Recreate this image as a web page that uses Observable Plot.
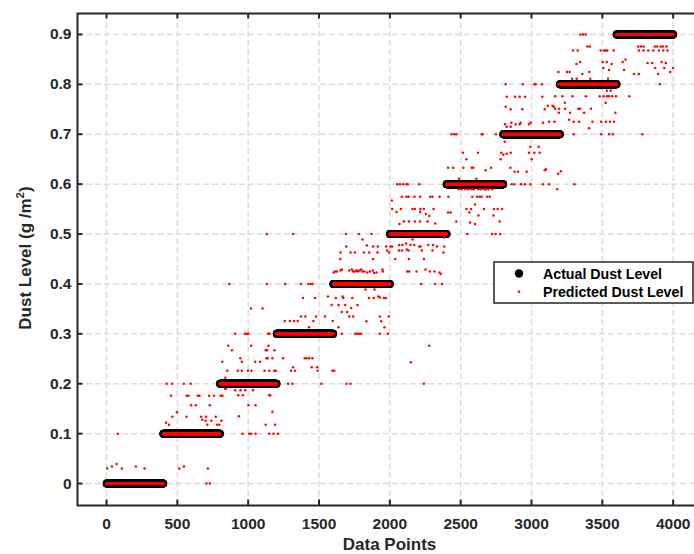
<!DOCTYPE html>
<html><head><meta charset="utf-8">
<script src="https://cdn.jsdelivr.net/npm/d3@7"></script>
<script src="https://cdn.jsdelivr.net/npm/@observablehq/plot@0.6"></script>
<style>
html,body{margin:0;padding:0;background:#fff;overflow:hidden;}
#chart{position:relative;width:694px;height:554px;overflow:hidden;background:#fff;}
#chart svg{display:block;max-width:none !important;width:702px !important;height:554px !important;}
</style>
</head><body><div id="chart"></div>
<script>
// Actual dust level: one constant level per block of data points
const actualLevels = [0, 0.1, 0.2, 0.3, 0.4, 0.5, 0.6, 0.7, 0.8, 0.9];
const pointsPerLevel = 400;

// Axis ticks
const xTicks = [0, 500, 1000, 1500, 2000, 2500, 3000, 3500, 4000];
const yTicks = [0, 0.1, 0.2, 0.3, 0.4, 0.5, 0.6, 0.7, 0.8, 0.9];
const yTickLabels = ["0", "0.1", "0.2", "0.3", "0.4", "0.5", "0.6", "0.7", "0.8", "0.9"];

// Predicted dust level: points that differ from the actual level, [dataPoint, level]
const predictedOff0to800 = [
  [5,0.03],[38,0.034],[71,0.039],[108,0.03],[207,0.034],[268,0.03],[80,0.1],
  [513,0.03],[546,0.034],[705,0],[730,0],[715,0.03],
  [424,0.2],[464,0.2],[545,0.2],[594,0.2],
  [455,0.176],[566,0.176],[578,0.176],[644,0.176],[656,0.176],[724,0.176],[759,0.176],
  [597,0.157],[630,0.157],[729,0.157],
  [464,0.134],[497,0.143],[564,0.134],[667,0.134],[703,0.134],[771,0.134],
  [700,0.126],[740,0.126],[712,0.118],[781,0.118],[420,0.122],[441,0.118],
  [676,0.128],[796,0.118]
];
const predictedOff800to1600 = [
  [806,0.176],[818,0.176],[811,0.126],[839,0.212],[842,0.19],
  [1131,0.5],[1317,0.5],
  [866,0.4],[1131,0.4],[1261,0.4],[1371,0.4],[1425,0.4],[1441,0.4],[1453,0.4],
  [1387,0.372],[1472,0.372],[1563,0.375],[1589,0.358],
  [1019,0.351],[1101,0.351],
  [1373,0.335],[1404,0.335],[1479,0.335],[1542,0.335],
  [1258,0.326],[1294,0.326],[1324,0.326],[1350,0.326],[1460,0.326],[1596,0.326],[1430,0.313],
  [908,0.3],[977,0.3],[991,0.3],[1000,0.3],[1141,0.3],[1150,0.3],
  [859,0.276],[885,0.267],[1021,0.276],[1124,0.267],[1133,0.267],[1143,0.276],[1185,0.267],
  [817,0.244],[944,0.251],[955,0.244],[1049,0.244],[1084,0.244],[1129,0.251],[1138,0.251],[1171,0.251],[1246,0.251],
  [1317,0.233],[1399,0.251],[1413,0.251],[1430,0.251],[1453,0.251],[1448,0.233],[1486,0.233],
  [852,0.226],[927,0.226],[955,0.226],[998,0.226],[1023,0.226],[1115,0.226],[1148,0.226],[1185,0.226],[1195,0.226],
  [1303,0.226],[1331,0.226],[1490,0.226],[1594,0.226],[1608,0.226],
  [1282,0.2],[1312,0.2],[1516,0.2],
  [838,0.19],[908,0.187],[946,0.187],[979,0.187],[1035,0.187],
  [1148,0.177],[1155,0.177],[930,0.177],[962,0.177],
  [1002,0.157],[1052,0.157],[1171,0.144],[934,0.135],[1124,0.118],[1190,0.118],
  [960,0.1],[1007,0.1],[1021,0.1],[1052,0.1],[1148,0.1],[1178,0.1],[1211,0.1]
];
const predictedOff1600to2400 = [
  [2052,0.6],[2071,0.6],[2094,0.6],[2118,0.6],[2127,0.6],[2207,0.6],
  [2085,0.575],[2118,0.575],[2132,0.575],[2174,0.575],[2214,0.575],[2285,0.575],[2301,0.575],[2351,0.575],
  [2014,0.567],[2016,0.55],[2078,0.55],[2047,0.544],[2160,0.55],[2176,0.55],[2216,0.55],[2240,0.55],
  [2254,0.54],[2278,0.536],[2214,0.544],[2308,0.55],
  [2099,0.525],[2134,0.525],[2176,0.525],[2212,0.525],[2266,0.525],[2320,0.521],[2068,0.52],
  [1689,0.5],[1781,0.5],[1871,0.5],
  [1807,0.489],[1838,0.477],[1692,0.475],[1882,0.475],[1915,0.475],[1974,0.475],[2005,0.475],[2016,0.475],
  [2066,0.478],[2089,0.478],[2115,0.481],[2146,0.478],[2172,0.478],[2207,0.475],[2216,0.475],
  [2271,0.478],[2304,0.478],[2332,0.475],[2384,0.475],[2160,0.489],[2385,0.493],
  [1652,0.463],[1722,0.463],[1753,0.463],[1816,0.463],[1854,0.463],[1913,0.463],[1981,0.467],[1995,0.463],
  [2064,0.467],[2085,0.467],[2120,0.469],[2132,0.467],[2226,0.467],[2301,0.467],[2379,0.463],
  [1650,0.45],[1882,0.45],[2038,0.45],[2134,0.45],[2240,0.45],
  [1603,0.423],[1614,0.425],[1626,0.425],[1652,0.427],[1661,0.429],
  [1713,0.427],[1732,0.429],[1741,0.425],[1755,0.425],[1765,0.427],[1774,0.425],[1786,0.427],[1798,0.429],
  [1807,0.425],[1819,0.425],[1840,0.423],[1859,0.425],[1880,0.427],[1889,0.422],[1906,0.423],[1948,0.429],[1950,0.425],
  [2122,0.425],[2136,0.425],[2188,0.425],[2252,0.429],[2282,0.425],[2315,0.425],[2351,0.423],[2358,0.42],
  [2221,0.4],[2320,0.4],[2369,0.4],
  [1619,0.372],[1666,0.375],[1671,0.372],[1734,0.372],[1828,0.389],[1892,0.389],[1852,0.372],[1887,0.372],
  [1918,0.375],[1929,0.373],[1958,0.372],[1972,0.372],
  [1638,0.358],[1685,0.358],[1727,0.352],[1772,0.358],[1661,0.344],[1699,0.344],[1713,0.335],[1741,0.335],
  [1835,0.325],[1929,0.335],[1939,0.325],[1993,0.335],[1962,0.313],[1638,0.313],
  [1661,0.3],[1755,0.3],[1769,0.3],[1783,0.3],[1797,0.3],[1929,0.3],[1986,0.3],
  [2278,0.276],[2148,0.243],[1694,0.2],[1722,0.2],[2240,0.2]
];
const predictedOff2400to3100 = [
  [2818,0.8],[2938,0.8],[3020,0.8],[3029,0.8],[3074,0.8],
  [2825,0.775],[2884,0.775],[2916,0.775],[2954,0.775],[3076,0.775],
  [2818,0.755],[2853,0.75],[2935,0.75],[3093,0.75],
  [2813,0.72],[2858,0.723],[2888,0.72],[2916,0.72],[2923,0.723],[2982,0.72],[2994,0.723],[3081,0.723],
  [2825,0.715],[2853,0.715],
  [2436,0.7],[2455,0.7],[2469,0.7],[2648,0.7],[2655,0.7],[2749,0.7],
  [2811,0.685],[2992,0.675],[3051,0.675],[2787,0.663],[2801,0.659],[2825,0.661],[2853,0.663],
  [2982,0.663],[3020,0.663],[3058,0.663],[2516,0.663],[2622,0.663],[2540,0.65],[2782,0.65],[3001,0.65],
  [2411,0.633],[2446,0.633],[2519,0.633],[2578,0.633],[2589,0.633],[2714,0.633],[2676,0.628],[2851,0.633],
  [2881,0.625],[2905,0.625],[2966,0.625],[3093,0.628],
  [2488,0.611],[2611,0.611],
  [2860,0.6],[2879,0.6],[2926,0.6],[2954,0.6],[2992,0.6],[3081,0.6],
  [2413,0.575],[2488,0.59],[2507,0.59],[2533,0.59],[2554,0.59],[2578,0.59],[2592,0.59],[2625,0.59],
  [2644,0.59],[2667,0.59],[2676,0.59],[2695,0.59],[2723,0.59],
  [2582,0.575],[2615,0.575],[2634,0.575],[2648,0.575],[2688,0.575],[2705,0.575],[2601,0.559],
  [2540,0.55],[2573,0.55],[2665,0.55],[2735,0.55],[2761,0.55],[2792,0.55],[2411,0.543],[2429,0.543],[2561,0.543],
  [2469,0.525],[2625,0.537],[2731,0.537],[2566,0.523],[2601,0.52],[2775,0.525],
  [2547,0.5],[2721,0.5],[2747,0.5],[2778,0.5]
];
const predictedOff3100to4000 = [
  [3345,0.9],[3364,0.9],[3383,0.9],
  [3394,0.876],[3411,0.876],[3293,0.868],[3326,0.868],[3488,0.868],[3512,0.868],[3526,0.868],[3535,0.868],[3580,0.868],
  [3753,0.876],[3772,0.876],[3791,0.876],[3871,0.876],[3887,0.876],[3913,0.876],[3927,0.876],[3953,0.876],
  [3758,0.868],[3791,0.868],[3824,0.868],[3859,0.868],[3899,0.868],[3930,0.868],[3960,0.868],
  [3317,0.841],[3343,0.845],[3502,0.845],[3531,0.845],[3566,0.841],[3643,0.845],[3664,0.85],
  [3819,0.843],[3852,0.843],[3918,0.845],[3948,0.843],
  [3999,0.833],[3873,0.833],[3937,0.833],[3507,0.833],[3547,0.829],[3653,0.829],[3190,0.825],[3251,0.825],
  [3270,0.825],[3408,0.825],[3359,0.821],[3723,0.821],[3758,0.821],[3894,0.821],[3979,0.825],
  [3286,0.811],[3319,0.811],[3415,0.811],[3540,0.811],[3906,0.8],[3186,0.8],
  [3167,0.776],[3218,0.776],[3289,0.776],[3383,0.776],[3481,0.776],[3509,0.776],[3533,0.776],[3547,0.776],
  [3570,0.776],[3596,0.776],[3690,0.776],[3533,0.787],[3559,0.787],[3523,0.763],[3235,0.763],
  [3115,0.757],[3148,0.757],[3157,0.755],[3167,0.751],[3195,0.751],[3237,0.751],[3331,0.751],[3343,0.751],
  [3420,0.751],[3193,0.743],[3272,0.743],[3371,0.743],[3592,0.743],
  [3124,0.725],[3162,0.725],[3265,0.729],[3298,0.725],[3336,0.725],[3430,0.725],[3491,0.725],[3526,0.725],
  [3554,0.725],[3582,0.725],[3406,0.712],
  [3298,0.7],[3491,0.7],[3547,0.7],[3575,0.7],[3782,0.7],
  [3101,0.63],[3188,0.621],[3207,0.626],[3124,0.6],[3181,0.59],[3303,0.6]
];

// ---- build tables for the library ----
const actual = [];
actualLevels.forEach((lv, k) => {
  for (let j = 1; j <= pointsPerLevel; j++) actual.push({x: k * pointsPerLevel + j, y: lv});
});
const predictedOff = [].concat(predictedOff0to800, predictedOff800to1600, predictedOff1600to2400,
  predictedOff2400to3100, predictedOff3100to4000).map(([x, y]) => ({x, y}));

const W = 702, H = 554, mL = 77, mR = 1, mT = 13, mB = 49;
const xDom = [-205, 4200], yDom = [-0.044, 0.942];
const pxPerY = (H - mT - mB) / (yDom[1] - yDom[0]);
const pxPerX = (W - mL - mR) / (xDom[1] - xDom[0]);
const tickLen = 5.5;
const axisColor = "#262626";
const gridStyle = {stroke: "#dcdcdc", strokeWidth: 1.5, strokeDasharray: "6,3"};

const chart = Plot.plot({
  width: W, height: H, marginLeft: mL, marginRight: mR, marginTop: mT, marginBottom: mB,
  x: {domain: xDom}, y: {domain: yDom},
  style: {fontFamily: "'Liberation Sans', Arial, Helvetica, sans-serif", fontSize: "15.5px", fontWeight: "bold", color: axisColor, background: "#fff", maxWidth: "none"},
  marks: [
    Plot.ruleX(xTicks, {x: d => d, ...gridStyle}),
    Plot.ruleY(yTicks, {y: d => d, ...gridStyle}),
    Plot.dot(actual, {x: "x", y: "y", r: 4, fill: "#000"}),
    Plot.dot(actual, {x: "x", y: "y", r: 1.5, fill: "#ff0000"}),
    Plot.dot(predictedOff, {x: "x", y: "y", r: 1.25, fill: "#ff0000"}),
    Plot.frame({stroke: axisColor, strokeWidth: 2}),
    Plot.ruleX(xTicks, {x: d => d, y1: yDom[0], y2: yDom[0] + tickLen / pxPerY, stroke: axisColor, strokeWidth: 2}),
    Plot.ruleX(xTicks, {x: d => d, y1: yDom[1], y2: yDom[1] - tickLen / pxPerY, stroke: axisColor, strokeWidth: 2}),
    Plot.ruleY(yTicks, {y: d => d, x1: xDom[0], x2: xDom[0] + tickLen / pxPerX, stroke: axisColor, strokeWidth: 2}),
    Plot.axisX({ticks: xTicks, tickSize: 0, tickPadding: 12, label: null, tickFormat: d => String(d)}),
    Plot.axisY({ticks: yTicks, tickSize: 0, tickPadding: 6, label: null, tickFormat: d => yTickLabels[yTicks.indexOf(d)]})
  ]
});
document.getElementById("chart").appendChild(chart);

// axis titles and legend
const svg = d3.select(chart);
const font = "'Liberation Sans', Arial, Helvetica, sans-serif";
svg.append("text").attr("x", 389.5).attr("y", 550).attr("text-anchor", "middle")
  .attr("font-family", font).attr("font-size", 17).attr("font-weight", "bold").attr("fill", axisColor)
  .text("Data Points");
const yt = svg.append("text").attr("transform", "translate(31,258) rotate(-90)").attr("text-anchor", "middle")
  .attr("font-family", font).attr("font-size", 17).attr("font-weight", "bold").attr("fill", axisColor);
yt.append("tspan").text("Dust Level (g /m");
yt.append("tspan").attr("font-size", 11.5).attr("dy", -7).text("2");
yt.append("tspan").attr("dy", 7).text(")");

const lg = svg.append("g").attr("text-anchor", "start");
lg.append("rect").attr("x", 494).attr("y", 262).attr("width", 199).attr("height", 41)
  .attr("fill", "#fff").attr("stroke", axisColor).attr("stroke-width", 1.5);
lg.append("circle").attr("cx", 519).attr("cy", 273.5).attr("r", 4.2).attr("fill", "#000");
lg.append("circle").attr("cx", 519).attr("cy", 291.7).attr("r", 1.3).attr("fill", "#ff0000");
lg.append("text").attr("x", 543).attr("y", 279).attr("text-anchor", "start").attr("font-family", font).attr("font-size", 14.2)
  .attr("font-weight", "bold").attr("fill", "#000").text("Actual Dust Level");
lg.append("text").attr("x", 543).attr("y", 297).attr("text-anchor", "start").attr("font-family", font).attr("font-size", 14.2)
  .attr("font-weight", "bold").attr("fill", "#000").text("Predicted Dust Level");
</script>
</body></html>
